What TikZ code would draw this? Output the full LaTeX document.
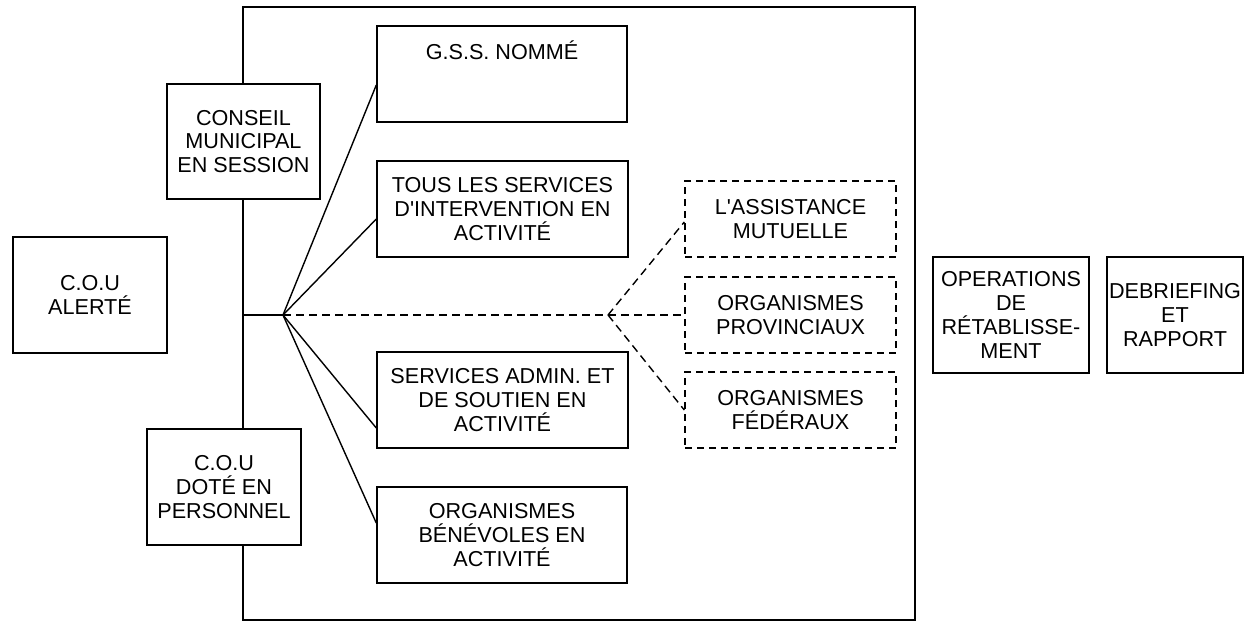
\documentclass[tikz,border=0pt]{standalone}
\usepackage{fontspec}
\setmainfont{Liberation Sans}
\begin{document}
\begin{tikzpicture}[x=1pt,y=-1pt,
  line width=1.4pt,
  box/.style={draw=black, fill=white, rectangle, align=center, inner sep=1pt,
    font=\fontsize{21.6}{23.8}\selectfont, line width=1.4pt},
  dbox/.style={box, dash pattern=on 7pt off 5pt},
  dline/.style={dash pattern=on 8pt off 5pt},
]
\useasboundingbox (0,0) rectangle (1252,621);
% frame
\node[draw=black, line width=1.4pt, minimum width=672, minimum height=613, inner sep=0pt] (frame) at (579,313.5) {};
\coordinate (j) at (243,315);
\coordinate (fan) at (283,315);
\coordinate (dj) at (608,315);

\node[box, minimum width=154, minimum height=116] (alerte) at (90,295) {C.O.U\\ALERTÉ};
\node[box, minimum width=153, minimum height=115] (conseil) at (243.5,141.5) {CONSEIL\\MUNICIPAL\\EN SESSION};
\node[box, minimum width=154, minimum height=116] (dote) at (224,487) {C.O.U\\DOTÉ EN\\PERSONNEL};

\node[box, minimum width=250, minimum height=96] (gss) at (502,74) {G.S.S. NOMMÉ\\[0pt]~\\~};
\node[box, minimum width=251, minimum height=96] (tous) at (502.5,209) {TOUS LES SERVICES\\D\textquotesingle INTERVENTION EN\\ACTIVITÉ};
\node[box, minimum width=251, minimum height=96] (admin) at (502.5,400) {SERVICES ADMIN. ET\\DE SOUTIEN EN\\ACTIVITÉ};
\node[box, minimum width=250, minimum height=96] (benev) at (502,535) {ORGANISMES\\BÉNÉVOLES EN\\ACTIVITÉ};

\node[dbox, minimum width=211, minimum height=76] (assist) at (790.5,219) {L\textquotesingle ASSISTANCE\\MUTUELLE};
\node[dbox, minimum width=211, minimum height=76] (prov) at (790.5,315) {ORGANISMES\\PROVINCIAUX};
\node[dbox, minimum width=211, minimum height=76] (fed) at (790.5,410) {ORGANISMES\\FÉDÉRAUX};

\node[box, minimum width=156, minimum height=116] (oper) at (1011,315) {OPERATIONS\\DE\\RÉTABLISSE-\\MENT};
\node[box, minimum width=136, minimum height=116] (debrief) at (1175,315) {DEBRIEFING\\ET\\RAPPORT};

% connectors
\draw (j) -- (fan);
\draw (fan) -- ([yshift=-11pt]gss.west);
\draw (fan) -- ([yshift=-10pt]tous.west);
\draw (fan) -- ([yshift=-28pt]admin.west);
\draw (fan) -- ([yshift=12pt]benev.west);
\draw[dline] (fan) -- (dj);
\draw[dline] (dj) -- ([yshift=-3pt]assist.west);
\draw[dline] (dj) -- (prov.west);
\draw[dline] (dj) -- (fed.west);
\end{tikzpicture}
\end{document}
